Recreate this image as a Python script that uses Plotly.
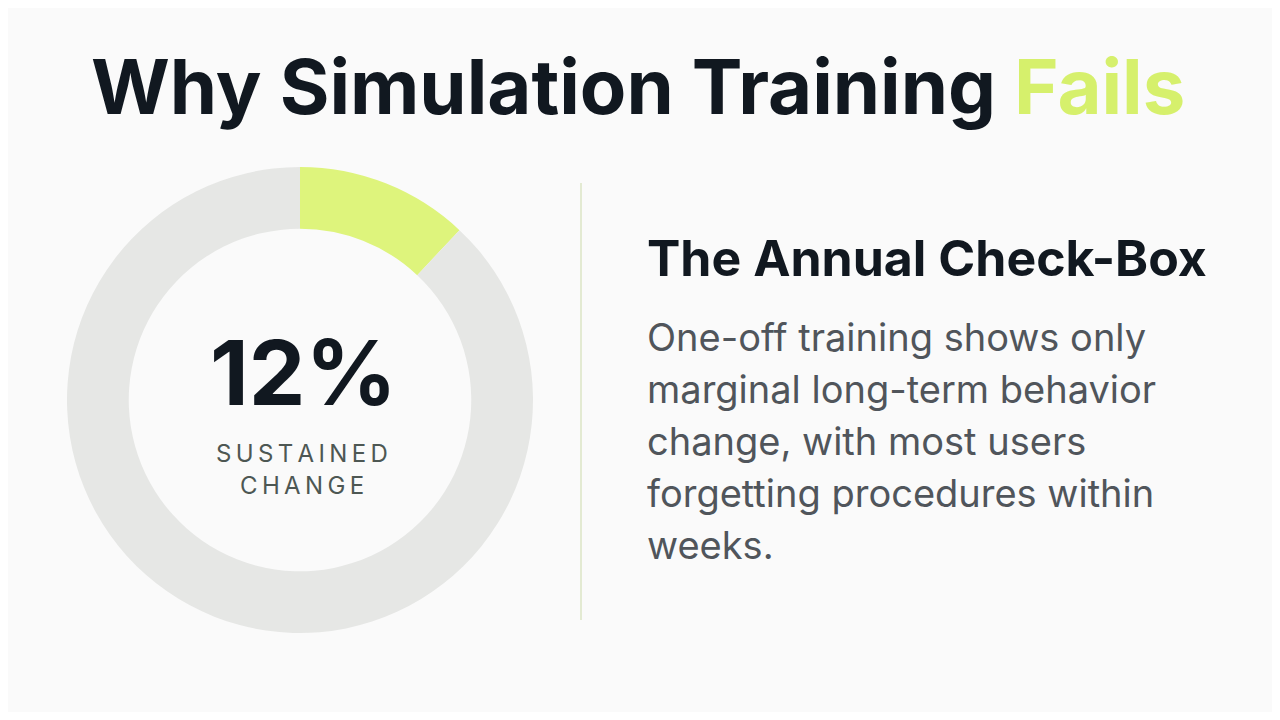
import plotly.graph_objects as go

labels = ["Sustained change", "No sustained change"]
values = [12, 88]
colors = ["#def47c", "#e6e7e5"]
title_main = "Why Simulation Training "
title_accent = "Fails"
big_value = "12%"
sub_label = ["SUSTAINED", "CHANGE"]
heading = "The Annual Check-Box"
body_lines = ["One-off training shows only", "marginal long-term behavior",
              "change, with most users", "forgetting procedures within", "weeks."]

OFF = 8
W, H = 1280 - 2 * OFF, 720 - 2 * OFF

def px(x, y):
    return (x - OFF) / W, 1 - (y - OFF) / H

x0, y0 = px(67, 633)
x1, y1 = px(533, 167)
fig = go.Figure(go.Pie(labels=labels, values=values, hole=0.735, sort=False,
                       direction="clockwise", rotation=0,
                       marker=dict(colors=colors, line=dict(width=0)),
                       textinfo="none", hoverinfo="label+percent", showlegend=False,
                       domain=dict(x=[x0, x1], y=[y0, y1])))

ann = []
x, y = px(638, 86)
ann.append(dict(x=x, y=y, text=f"<b>{title_main}<span style='color:#d6f06c'>{title_accent}</span></b>",
                font=dict(family="Inter", size=76, color="#111820")))
x, y = px(303, 372)
ann.append(dict(x=x, y=y, text=f"<b>{big_value}</b>", font=dict(family="Inter", size=90, color="#111820")))
for i, s in enumerate(sub_label):
    x, y = px(302, 453 + 32 * i)
    ann.append(dict(x=x, y=y, text="&#8201;".join(s), font=dict(family="Inter", size=24, color="#4d5753")))
x, y = px(645, 258)
ann.append(dict(x=x, y=y, text=f"<b>{heading}</b>", xanchor="left",
                font=dict(family="Inter", size=50, color="#111820")))
for i, s in enumerate(body_lines):
    x, y = px(645, 337 + 52 * i)
    ann.append(dict(x=x, y=y, text=s, xanchor="left",
                    font=dict(family="Inter", size=38, color="#50555b")))
for a in ann:
    a.update(xref="paper", yref="paper", showarrow=False, yanchor="middle", xanchor=a.get("xanchor", "center"))

lx, ly0 = px(581, 183)
_, ly1 = px(581, 620)
fig.update_layout(width=W, height=H, margin=dict(l=0, r=0, t=0, b=0),
                  paper_bgcolor="#fafafa", plot_bgcolor="#fafafa", annotations=ann,
                  shapes=[dict(type="line", xref="paper", yref="paper",
                               x0=lx, x1=lx, y0=ly0, y1=ly1,
                               line=dict(color="#e3ead2", width=2))])
fig.write_html("out.html")
